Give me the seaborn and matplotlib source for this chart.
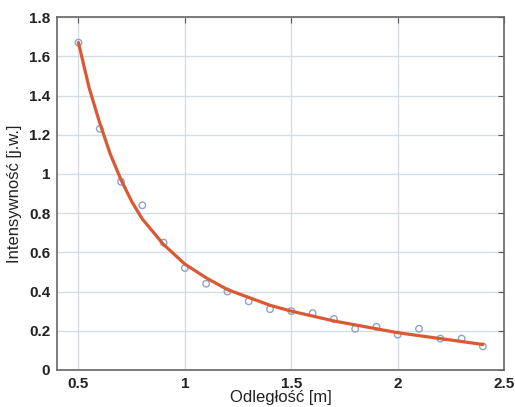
import numpy as np
import pandas as pd
import matplotlib
matplotlib.use("Agg")
import matplotlib.pyplot as plt
import seaborn as sns

# Measured points
distance = [0.5, 0.6, 0.7, 0.8, 0.9, 1.0, 1.1, 1.2, 1.3, 1.4,
            1.5, 1.6, 1.7, 1.8, 1.9, 2.0, 2.1, 2.2, 2.3, 2.4]
intensity = [1.67, 1.23, 0.96, 0.84, 0.65, 0.52, 0.44, 0.40, 0.35, 0.31,
             0.30, 0.29, 0.26, 0.21, 0.22, 0.18, 0.21, 0.16, 0.16, 0.12]

# Fitted curve
fit_x = [0.5, 0.55, 0.6, 0.65, 0.7, 0.75, 0.8, 0.9, 1.0, 1.1, 1.2, 1.3, 1.4,
         1.5, 1.6, 1.7, 1.8, 1.9, 2.0, 2.1, 2.2, 2.3, 2.4]
fit_y = [1.67, 1.44, 1.26, 1.10, 0.97, 0.86, 0.77, 0.64, 0.54, 0.47, 0.41,
         0.37, 0.33, 0.30, 0.275, 0.25, 0.23, 0.21, 0.19, 0.175, 0.16, 0.145, 0.13]

df_pts = pd.DataFrame({"x": distance, "y": intensity})
df_fit = pd.DataFrame({"x": fit_x, "y": fit_y})

sns.set_style("white")
plt.rcParams['font.family'] = ['Liberation Sans', 'DejaVu Sans']

fig, ax = plt.subplots(figsize=(5.15, 4.07), dpi=100)
fig.subplots_adjust(left=0.111, right=0.979, top=0.958, bottom=0.091)

sns.scatterplot(data=df_pts, x="x", y="y", ax=ax, marker="o", s=22,
                facecolors="none", edgecolor="#8ea3c8", linewidth=1.0, zorder=3)
sns.lineplot(data=df_fit, x="x", y="y", ax=ax, color="#d95a32",
             linewidth=2.3, zorder=4)

ax.set_xlim(0.4, 2.5)
ax.set_ylim(0, 1.8)
ax.set_xticks([0.5, 1, 1.5, 2, 2.5])
ax.set_xticklabels(["0.5", "1", "1.5", "2", "2.5"])
ax.set_yticks(np.arange(0, 1.81, 0.2))
ax.set_yticklabels(["0", "0.2", "0.4", "0.6", "0.8", "1", "1.2", "1.4", "1.6", "1.8"])
ax.grid(True, color="#d5dde3", linewidth=1.0)
ax.tick_params(direction="in", length=4, top=True, right=True,
               labelsize=11, color="#555555", pad=5)
for lbl in ax.get_xticklabels() + ax.get_yticklabels():
    lbl.set_fontweight("bold")
    lbl.set_color("#222222")
for sp in ax.spines.values():
    sp.set_color("#666666")
    sp.set_linewidth(1.2)

ax.set_xlabel("Odległość [m]", fontsize=12, color="#222222", labelpad=-1)
ax.set_ylabel("Intensywność [j.w.]", fontsize=12, color="#222222", labelpad=5)

fig.savefig("out.png", dpi=100)
